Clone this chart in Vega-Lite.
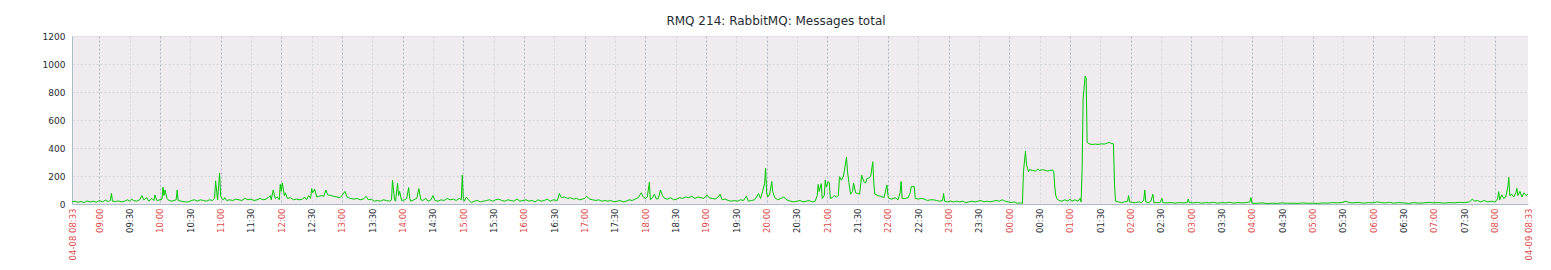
{
  "$schema": "https://vega.github.io/schema/vega-lite/v6.json",
  "autosize": "none",
  "width": 1456,
  "height": 168,
  "padding": {"left": 72, "top": 36, "right": 23, "bottom": 66},
  "background": "#FFFFFF",
  "config": {
    "font": "DejaVu Sans",
    "view": {"fill": "#EFEBEF", "stroke": null}
  },
  "title": {
    "text": "RMQ 214: RabbitMQ: Messages total",
    "font": "DejaVu Sans",
    "fontSize": 12,
    "fontWeight": "normal",
    "color": "#1F2C33",
    "anchor": "middle",
    "frame": "group",
    "dx": -24,
    "offset": 4
  },
  "data": {
    "values": [
      {"t":"2024-04-08T08:33","v":15},{"t":"2024-04-08T08:36","v":20},{"t":"2024-04-08T08:39","v":12},{"t":"2024-04-08T08:42","v":18},{"t":"2024-04-08T08:45","v":10},{"t":"2024-04-08T08:48","v":22},{"t":"2024-04-08T08:51","v":14},{"t":"2024-04-08T08:54","v":20},{"t":"2024-04-08T08:57","v":12},{"t":"2024-04-08T09:00","v":25},
      {"t":"2024-04-08T09:03","v":15},{"t":"2024-04-08T09:06","v":28},{"t":"2024-04-08T09:09","v":18},{"t":"2024-04-08T09:11","v":25},{"t":"2024-04-08T09:12","v":76},{"t":"2024-04-08T09:13","v":20},{"t":"2024-04-08T09:16","v":18},{"t":"2024-04-08T09:19","v":22},{"t":"2024-04-08T09:22","v":15},{"t":"2024-04-08T09:25","v":20},{"t":"2024-04-08T09:28","v":30},{"t":"2024-04-08T09:30","v":20},{"t":"2024-04-08T09:32","v":35},{"t":"2024-04-08T09:34","v":25},{"t":"2024-04-08T09:37","v":20},{"t":"2024-04-08T09:40","v":30},{"t":"2024-04-08T09:42","v":60},{"t":"2024-04-08T09:44","v":30},{"t":"2024-04-08T09:47","v":45},{"t":"2024-04-08T09:49","v":20},{"t":"2024-04-08T09:52","v":40},{"t":"2024-04-08T09:54","v":25},{"t":"2024-04-08T09:55","v":65},{"t":"2024-04-08T09:57","v":25},
      {"t":"2024-04-08T10:00","v":30},{"t":"2024-04-08T10:02","v":35},{"t":"2024-04-08T10:03","v":120},{"t":"2024-04-08T10:04","v":60},{"t":"2024-04-08T10:05","v":100},{"t":"2024-04-08T10:07","v":40},{"t":"2024-04-08T10:08","v":30},{"t":"2024-04-08T10:11","v":20},{"t":"2024-04-08T10:14","v":25},{"t":"2024-04-08T10:16","v":30},{"t":"2024-04-08T10:17","v":100},{"t":"2024-04-08T10:18","v":25},{"t":"2024-04-08T10:21","v":20},{"t":"2024-04-08T10:25","v":15},{"t":"2024-04-08T10:28","v":15},{"t":"2024-04-08T10:31","v":25},{"t":"2024-04-08T10:34","v":30},{"t":"2024-04-08T10:37","v":20},{"t":"2024-04-08T10:40","v":30},{"t":"2024-04-08T10:43","v":25},{"t":"2024-04-08T10:46","v":20},{"t":"2024-04-08T10:49","v":30},{"t":"2024-04-08T10:52","v":25},{"t":"2024-04-08T10:54","v":40},{"t":"2024-04-08T10:55","v":165},{"t":"2024-04-08T10:57","v":30},{"t":"2024-04-08T10:59","v":220},
      {"t":"2024-04-08T11:00","v":60},{"t":"2024-04-08T11:01","v":40},{"t":"2024-04-08T11:03","v":30},{"t":"2024-04-08T11:04","v":45},{"t":"2024-04-08T11:06","v":25},{"t":"2024-04-08T11:09","v":30},{"t":"2024-04-08T11:12","v":25},{"t":"2024-04-08T11:15","v":35},{"t":"2024-04-08T11:18","v":30},{"t":"2024-04-08T11:21","v":25},{"t":"2024-04-08T11:24","v":40},{"t":"2024-04-08T11:27","v":30},{"t":"2024-04-08T11:30","v":35},{"t":"2024-04-08T11:33","v":25},{"t":"2024-04-08T11:36","v":30},{"t":"2024-04-08T11:39","v":40},{"t":"2024-04-08T11:42","v":30},{"t":"2024-04-08T11:45","v":35},{"t":"2024-04-08T11:47","v":45},{"t":"2024-04-08T11:49","v":60},{"t":"2024-04-08T11:50","v":30},{"t":"2024-04-08T11:52","v":100},{"t":"2024-04-08T11:54","v":40},{"t":"2024-04-08T11:56","v":50},{"t":"2024-04-08T11:58","v":30},{"t":"2024-04-08T11:59","v":140},
      {"t":"2024-04-08T12:00","v":90},{"t":"2024-04-08T12:01","v":150},{"t":"2024-04-08T12:03","v":60},{"t":"2024-04-08T12:04","v":80},{"t":"2024-04-08T12:06","v":40},{"t":"2024-04-08T12:09","v":45},{"t":"2024-04-08T12:12","v":30},{"t":"2024-04-08T12:15","v":35},{"t":"2024-04-08T12:18","v":30},{"t":"2024-04-08T12:21","v":35},{"t":"2024-04-08T12:23","v":50},{"t":"2024-04-08T12:25","v":30},{"t":"2024-04-08T12:27","v":60},{"t":"2024-04-08T12:29","v":40},{"t":"2024-04-08T12:30","v":110},{"t":"2024-04-08T12:31","v":80},{"t":"2024-04-08T12:33","v":105},{"t":"2024-04-08T12:35","v":50},{"t":"2024-04-08T12:37","v":55},{"t":"2024-04-08T12:40","v":60},{"t":"2024-04-08T12:42","v":55},{"t":"2024-04-08T12:44","v":100},{"t":"2024-04-08T12:46","v":65},{"t":"2024-04-08T12:49","v":60},{"t":"2024-04-08T12:52","v":55},{"t":"2024-04-08T12:55","v":50},{"t":"2024-04-08T12:58","v":45},
      {"t":"2024-04-08T13:00","v":60},{"t":"2024-04-08T13:03","v":90},{"t":"2024-04-08T13:05","v":50},{"t":"2024-04-08T13:08","v":40},{"t":"2024-04-08T13:12","v":35},{"t":"2024-04-08T13:15","v":40},{"t":"2024-04-08T13:18","v":30},{"t":"2024-04-08T13:21","v":35},{"t":"2024-04-08T13:24","v":55},{"t":"2024-04-08T13:26","v":30},{"t":"2024-04-08T13:29","v":35},{"t":"2024-04-08T13:32","v":20},{"t":"2024-04-08T13:35","v":25},{"t":"2024-04-08T13:38","v":20},{"t":"2024-04-08T13:41","v":30},{"t":"2024-04-08T13:44","v":25},{"t":"2024-04-08T13:47","v":20},{"t":"2024-04-08T13:49","v":30},{"t":"2024-04-08T13:50","v":170},{"t":"2024-04-08T13:52","v":30},{"t":"2024-04-08T13:53","v":20},{"t":"2024-04-08T13:55","v":148},{"t":"2024-04-08T13:56","v":60},{"t":"2024-04-08T13:57","v":90},{"t":"2024-04-08T13:59","v":25},
      {"t":"2024-04-08T14:02","v":30},{"t":"2024-04-08T14:04","v":40},{"t":"2024-04-08T14:06","v":117},{"t":"2024-04-08T14:07","v":40},{"t":"2024-04-08T14:08","v":20},{"t":"2024-04-08T14:11","v":30},{"t":"2024-04-08T14:14","v":40},{"t":"2024-04-08T14:16","v":110},{"t":"2024-04-08T14:18","v":30},{"t":"2024-04-08T14:20","v":25},{"t":"2024-04-08T14:23","v":40},{"t":"2024-04-08T14:25","v":20},{"t":"2024-04-08T14:28","v":30},{"t":"2024-04-08T14:30","v":60},{"t":"2024-04-08T14:32","v":25},{"t":"2024-04-08T14:35","v":20},{"t":"2024-04-08T14:38","v":30},{"t":"2024-04-08T14:41","v":25},{"t":"2024-04-08T14:44","v":40},{"t":"2024-04-08T14:47","v":30},{"t":"2024-04-08T14:50","v":35},{"t":"2024-04-08T14:53","v":25},{"t":"2024-04-08T14:56","v":40},{"t":"2024-04-08T14:58","v":30},{"t":"2024-04-08T14:59","v":207},
      {"t":"2024-04-08T15:00","v":40},{"t":"2024-04-08T15:01","v":20},{"t":"2024-04-08T15:03","v":50},{"t":"2024-04-08T15:05","v":30},{"t":"2024-04-08T15:08","v":10},{"t":"2024-04-08T15:11","v":20},{"t":"2024-04-08T15:14","v":25},{"t":"2024-04-08T15:17","v":15},{"t":"2024-04-08T15:20","v":20},{"t":"2024-04-08T15:23","v":25},{"t":"2024-04-08T15:26","v":30},{"t":"2024-04-08T15:29","v":20},{"t":"2024-04-08T15:32","v":30},{"t":"2024-04-08T15:35","v":35},{"t":"2024-04-08T15:38","v":25},{"t":"2024-04-08T15:41","v":20},{"t":"2024-04-08T15:44","v":30},{"t":"2024-04-08T15:47","v":25},{"t":"2024-04-08T15:50","v":20},{"t":"2024-04-08T15:53","v":35},{"t":"2024-04-08T15:56","v":20},{"t":"2024-04-08T15:59","v":25},
      {"t":"2024-04-08T16:02","v":30},{"t":"2024-04-08T16:05","v":20},{"t":"2024-04-08T16:08","v":25},{"t":"2024-04-08T16:11","v":15},{"t":"2024-04-08T16:14","v":30},{"t":"2024-04-08T16:17","v":20},{"t":"2024-04-08T16:20","v":25},{"t":"2024-04-08T16:23","v":35},{"t":"2024-04-08T16:26","v":20},{"t":"2024-04-08T16:29","v":30},{"t":"2024-04-08T16:33","v":25},{"t":"2024-04-08T16:35","v":75},{"t":"2024-04-08T16:37","v":45},{"t":"2024-04-08T16:40","v":50},{"t":"2024-04-08T16:43","v":40},{"t":"2024-04-08T16:46","v":45},{"t":"2024-04-08T16:49","v":35},{"t":"2024-04-08T16:52","v":40},{"t":"2024-04-08T16:55","v":30},{"t":"2024-04-08T16:58","v":35},
      {"t":"2024-04-08T17:00","v":40},{"t":"2024-04-08T17:02","v":55},{"t":"2024-04-08T17:05","v":35},{"t":"2024-04-08T17:08","v":30},{"t":"2024-04-08T17:11","v":25},{"t":"2024-04-08T17:14","v":30},{"t":"2024-04-08T17:17","v":20},{"t":"2024-04-08T17:20","v":25},{"t":"2024-04-08T17:23","v":20},{"t":"2024-04-08T17:26","v":25},{"t":"2024-04-08T17:29","v":15},{"t":"2024-04-08T17:32","v":20},{"t":"2024-04-08T17:35","v":25},{"t":"2024-04-08T17:38","v":15},{"t":"2024-04-08T17:41","v":20},{"t":"2024-04-08T17:44","v":30},{"t":"2024-04-08T17:47","v":25},{"t":"2024-04-08T17:50","v":35},{"t":"2024-04-08T17:53","v":45},{"t":"2024-04-08T17:56","v":80},{"t":"2024-04-08T17:58","v":50},
      {"t":"2024-04-08T18:00","v":40},{"t":"2024-04-08T18:02","v":50},{"t":"2024-04-08T18:04","v":155},{"t":"2024-04-08T18:05","v":30},{"t":"2024-04-08T18:07","v":45},{"t":"2024-04-08T18:09","v":70},{"t":"2024-04-08T18:11","v":35},{"t":"2024-04-08T18:13","v":40},{"t":"2024-04-08T18:15","v":100},{"t":"2024-04-08T18:17","v":60},{"t":"2024-04-08T18:19","v":40},{"t":"2024-04-08T18:22","v":35},{"t":"2024-04-08T18:25","v":45},{"t":"2024-04-08T18:28","v":30},{"t":"2024-04-08T18:31","v":35},{"t":"2024-04-08T18:34","v":45},{"t":"2024-04-08T18:37","v":40},{"t":"2024-04-08T18:40","v":50},{"t":"2024-04-08T18:43","v":45},{"t":"2024-04-08T18:46","v":55},{"t":"2024-04-08T18:49","v":40},{"t":"2024-04-08T18:52","v":50},{"t":"2024-04-08T18:55","v":45},{"t":"2024-04-08T18:58","v":40},
      {"t":"2024-04-08T19:01","v":65},{"t":"2024-04-08T19:03","v":45},{"t":"2024-04-08T19:06","v":40},{"t":"2024-04-08T19:09","v":35},{"t":"2024-04-08T19:12","v":50},{"t":"2024-04-08T19:14","v":70},{"t":"2024-04-08T19:16","v":30},{"t":"2024-04-08T19:19","v":35},{"t":"2024-04-08T19:22","v":25},{"t":"2024-04-08T19:25","v":20},{"t":"2024-04-08T19:28","v":25},{"t":"2024-04-08T19:31","v":20},{"t":"2024-04-08T19:34","v":30},{"t":"2024-04-08T19:37","v":25},{"t":"2024-04-08T19:40","v":55},{"t":"2024-04-08T19:42","v":20},{"t":"2024-04-08T19:45","v":25},{"t":"2024-04-08T19:48","v":30},{"t":"2024-04-08T19:50","v":50},{"t":"2024-04-08T19:52","v":75},{"t":"2024-04-08T19:54","v":40},{"t":"2024-04-08T19:56","v":90},{"t":"2024-04-08T19:58","v":148},{"t":"2024-04-08T19:59","v":255},
      {"t":"2024-04-08T20:00","v":80},{"t":"2024-04-08T20:01","v":50},{"t":"2024-04-08T20:03","v":70},{"t":"2024-04-08T20:05","v":160},{"t":"2024-04-08T20:06","v":90},{"t":"2024-04-08T20:08","v":45},{"t":"2024-04-08T20:11","v":30},{"t":"2024-04-08T20:14","v":40},{"t":"2024-04-08T20:17","v":50},{"t":"2024-04-08T20:19","v":35},{"t":"2024-04-08T20:21","v":25},{"t":"2024-04-08T20:24","v":20},{"t":"2024-04-08T20:27","v":15},{"t":"2024-04-08T20:30","v":20},{"t":"2024-04-08T20:33","v":25},{"t":"2024-04-08T20:36","v":15},{"t":"2024-04-08T20:39","v":20},{"t":"2024-04-08T20:42","v":25},{"t":"2024-04-08T20:45","v":15},{"t":"2024-04-08T20:48","v":20},{"t":"2024-04-08T20:50","v":60},{"t":"2024-04-08T20:51","v":140},{"t":"2024-04-08T20:52","v":90},{"t":"2024-04-08T20:54","v":145},{"t":"2024-04-08T20:55","v":40},{"t":"2024-04-08T20:57","v":60},{"t":"2024-04-08T20:58","v":171},{"t":"2024-04-08T20:59","v":120},
      {"t":"2024-04-08T21:01","v":160},{"t":"2024-04-08T21:02","v":150},{"t":"2024-04-08T21:03","v":40},{"t":"2024-04-08T21:05","v":45},{"t":"2024-04-08T21:07","v":60},{"t":"2024-04-08T21:09","v":50},{"t":"2024-04-08T21:11","v":60},{"t":"2024-04-08T21:12","v":195},{"t":"2024-04-08T21:14","v":170},{"t":"2024-04-08T21:16","v":200},{"t":"2024-04-08T21:19","v":333},{"t":"2024-04-08T21:20","v":230},{"t":"2024-04-08T21:22","v":120},{"t":"2024-04-08T21:23","v":70},{"t":"2024-04-08T21:25","v":90},{"t":"2024-04-08T21:26","v":150},{"t":"2024-04-08T21:28","v":80},{"t":"2024-04-08T21:30","v":75},{"t":"2024-04-08T21:32","v":70},{"t":"2024-04-08T21:34","v":207},{"t":"2024-04-08T21:36","v":160},{"t":"2024-04-08T21:38","v":150},{"t":"2024-04-08T21:39","v":180},{"t":"2024-04-08T21:41","v":185},{"t":"2024-04-08T21:43","v":200},{"t":"2024-04-08T21:45","v":302},{"t":"2024-04-08T21:46","v":150},{"t":"2024-04-08T21:47","v":70},{"t":"2024-04-08T21:50","v":60},{"t":"2024-04-08T21:53","v":55},{"t":"2024-04-08T21:56","v":45},{"t":"2024-04-08T21:59","v":136},
      {"t":"2024-04-08T22:00","v":60},{"t":"2024-04-08T22:01","v":40},{"t":"2024-04-08T22:04","v":35},{"t":"2024-04-08T22:07","v":45},{"t":"2024-04-08T22:10","v":30},{"t":"2024-04-08T22:12","v":80},{"t":"2024-04-08T22:13","v":160},{"t":"2024-04-08T22:14","v":40},{"t":"2024-04-08T22:17","v":40},{"t":"2024-04-08T22:20","v":45},{"t":"2024-04-08T22:22","v":80},{"t":"2024-04-08T22:23","v":124},{"t":"2024-04-08T22:26","v":124},{"t":"2024-04-08T22:27","v":40},{"t":"2024-04-08T22:30","v":35},{"t":"2024-04-08T22:33","v":40},{"t":"2024-04-08T22:36","v":35},{"t":"2024-04-08T22:39","v":25},{"t":"2024-04-08T22:42","v":30},{"t":"2024-04-08T22:45","v":30},{"t":"2024-04-08T22:48","v":25},{"t":"2024-04-08T22:51","v":20},{"t":"2024-04-08T22:54","v":25},{"t":"2024-04-08T22:55","v":75},{"t":"2024-04-08T22:56","v":20},{"t":"2024-04-08T22:59","v":15},
      {"t":"2024-04-08T23:02","v":20},{"t":"2024-04-08T23:05","v":15},{"t":"2024-04-08T23:08","v":20},{"t":"2024-04-08T23:11","v":15},{"t":"2024-04-08T23:14","v":20},{"t":"2024-04-08T23:17","v":10},{"t":"2024-04-08T23:20","v":15},{"t":"2024-04-08T23:23","v":20},{"t":"2024-04-08T23:26","v":15},{"t":"2024-04-08T23:29","v":20},{"t":"2024-04-08T23:32","v":25},{"t":"2024-04-08T23:35","v":15},{"t":"2024-04-08T23:38","v":20},{"t":"2024-04-08T23:41","v":15},{"t":"2024-04-08T23:44","v":20},{"t":"2024-04-08T23:47","v":25},{"t":"2024-04-08T23:50","v":20},{"t":"2024-04-08T23:53","v":30},{"t":"2024-04-08T23:56","v":20},{"t":"2024-04-08T23:59","v":15},
      {"t":"2024-04-09T00:02","v":10},{"t":"2024-04-09T00:05","v":15},{"t":"2024-04-09T00:08","v":5},{"t":"2024-04-09T00:11","v":8},{"t":"2024-04-09T00:13","v":5},{"t":"2024-04-09T00:14","v":230},{"t":"2024-04-09T00:16","v":378},{"t":"2024-04-09T00:17","v":280},{"t":"2024-04-09T00:18","v":255},{"t":"2024-04-09T00:19","v":230},{"t":"2024-04-09T00:20","v":245},{"t":"2024-04-09T00:23","v":240},{"t":"2024-04-09T00:26","v":235},{"t":"2024-04-09T00:28","v":250},{"t":"2024-04-09T00:30","v":240},{"t":"2024-04-09T00:33","v":245},{"t":"2024-04-09T00:36","v":240},{"t":"2024-04-09T00:38","v":235},{"t":"2024-04-09T00:40","v":240},{"t":"2024-04-09T00:43","v":242},{"t":"2024-04-09T00:44","v":230},{"t":"2024-04-09T00:45","v":120},{"t":"2024-04-09T00:46","v":60},{"t":"2024-04-09T00:47","v":40},{"t":"2024-04-09T00:49","v":25},{"t":"2024-04-09T00:52","v":20},{"t":"2024-04-09T00:55","v":30},{"t":"2024-04-09T00:58","v":20},
      {"t":"2024-04-09T01:00","v":35},{"t":"2024-04-09T01:02","v":20},{"t":"2024-04-09T01:05","v":30},{"t":"2024-04-09T01:08","v":20},{"t":"2024-04-09T01:10","v":40},{"t":"2024-04-09T01:11","v":15},{"t":"2024-04-09T01:12","v":240},{"t":"2024-04-09T01:13","v":750},{"t":"2024-04-09T01:15","v":914},{"t":"2024-04-09T01:16","v":900},{"t":"2024-04-09T01:17","v":440},{"t":"2024-04-09T01:19","v":430},{"t":"2024-04-09T01:22","v":425},{"t":"2024-04-09T01:25","v":428},{"t":"2024-04-09T01:28","v":425},{"t":"2024-04-09T01:31","v":430},{"t":"2024-04-09T01:34","v":428},{"t":"2024-04-09T01:37","v":435},{"t":"2024-04-09T01:39","v":440},{"t":"2024-04-09T01:41","v":432},{"t":"2024-04-09T01:43","v":430},{"t":"2024-04-09T01:44","v":150},{"t":"2024-04-09T01:45","v":20},{"t":"2024-04-09T01:48","v":15},{"t":"2024-04-09T01:51","v":10},{"t":"2024-04-09T01:54","v":15},{"t":"2024-04-09T01:57","v":20},{"t":"2024-04-09T01:58","v":60},{"t":"2024-04-09T01:59","v":15},
      {"t":"2024-04-09T02:02","v":10},{"t":"2024-04-09T02:05","v":10},{"t":"2024-04-09T02:08","v":15},{"t":"2024-04-09T02:11","v":10},{"t":"2024-04-09T02:13","v":30},{"t":"2024-04-09T02:14","v":100},{"t":"2024-04-09T02:15","v":15},{"t":"2024-04-09T02:18","v":10},{"t":"2024-04-09T02:20","v":20},{"t":"2024-04-09T02:22","v":70},{"t":"2024-04-09T02:23","v":10},{"t":"2024-04-09T02:26","v":10},{"t":"2024-04-09T02:29","v":10},{"t":"2024-04-09T02:31","v":40},{"t":"2024-04-09T02:32","v":10},{"t":"2024-04-09T02:36","v":8},{"t":"2024-04-09T02:40","v":10},{"t":"2024-04-09T02:44","v":6},{"t":"2024-04-09T02:48","v":10},{"t":"2024-04-09T02:52","v":8},{"t":"2024-04-09T02:56","v":10},{"t":"2024-04-09T02:57","v":35},{"t":"2024-04-09T02:58","v":10},
      {"t":"2024-04-09T03:02","v":8},{"t":"2024-04-09T03:06","v":12},{"t":"2024-04-09T03:10","v":6},{"t":"2024-04-09T03:14","v":10},{"t":"2024-04-09T03:18","v":8},{"t":"2024-04-09T03:22","v":12},{"t":"2024-04-09T03:26","v":6},{"t":"2024-04-09T03:30","v":10},{"t":"2024-04-09T03:34","v":8},{"t":"2024-04-09T03:38","v":12},{"t":"2024-04-09T03:42","v":6},{"t":"2024-04-09T03:46","v":10},{"t":"2024-04-09T03:50","v":8},{"t":"2024-04-09T03:54","v":10},{"t":"2024-04-09T03:58","v":15},{"t":"2024-04-09T03:59","v":45},{"t":"2024-04-09T04:00","v":5},
      {"t":"2024-04-09T04:05","v":5},{"t":"2024-04-09T04:10","v":8},{"t":"2024-04-09T04:15","v":3},{"t":"2024-04-09T04:20","v":6},{"t":"2024-04-09T04:25","v":4},{"t":"2024-04-09T04:30","v":8},{"t":"2024-04-09T04:35","v":5},{"t":"2024-04-09T04:40","v":6},{"t":"2024-04-09T04:45","v":4},{"t":"2024-04-09T04:50","v":8},{"t":"2024-04-09T04:55","v":5},{"t":"2024-04-09T05:00","v":6},{"t":"2024-04-09T05:05","v":4},{"t":"2024-04-09T05:10","v":8},{"t":"2024-04-09T05:15","v":6},{"t":"2024-04-09T05:20","v":10},{"t":"2024-04-09T05:25","v":8},{"t":"2024-04-09T05:30","v":12},{"t":"2024-04-09T05:33","v":20},{"t":"2024-04-09T05:36","v":10},{"t":"2024-04-09T05:40","v":8},{"t":"2024-04-09T05:45","v":12},{"t":"2024-04-09T05:50","v":6},{"t":"2024-04-09T05:55","v":10},
      {"t":"2024-04-09T06:00","v":8},{"t":"2024-04-09T06:04","v":15},{"t":"2024-04-09T06:08","v":10},{"t":"2024-04-09T06:12","v":8},{"t":"2024-04-09T06:16","v":12},{"t":"2024-04-09T06:20","v":6},{"t":"2024-04-09T06:25","v":10},{"t":"2024-04-09T06:30","v":8},{"t":"2024-04-09T06:35","v":4},{"t":"2024-04-09T06:40","v":10},{"t":"2024-04-09T06:45","v":6},{"t":"2024-04-09T06:50","v":8},{"t":"2024-04-09T06:55","v":12},
      {"t":"2024-04-09T07:00","v":8},{"t":"2024-04-09T07:05","v":10},{"t":"2024-04-09T07:10","v":6},{"t":"2024-04-09T07:15","v":10},{"t":"2024-04-09T07:20","v":8},{"t":"2024-04-09T07:25","v":12},{"t":"2024-04-09T07:30","v":10},{"t":"2024-04-09T07:35","v":15},{"t":"2024-04-09T07:38","v":35},{"t":"2024-04-09T07:40","v":20},{"t":"2024-04-09T07:43","v":25},{"t":"2024-04-09T07:46","v":15},{"t":"2024-04-09T07:50","v":25},{"t":"2024-04-09T07:53","v":15},{"t":"2024-04-09T07:57","v":20},
      {"t":"2024-04-09T08:00","v":15},{"t":"2024-04-09T08:02","v":25},{"t":"2024-04-09T08:03","v":40},{"t":"2024-04-09T08:04","v":88},{"t":"2024-04-09T08:05","v":30},{"t":"2024-04-09T08:07","v":65},{"t":"2024-04-09T08:09","v":40},{"t":"2024-04-09T08:11","v":50},{"t":"2024-04-09T08:13","v":120},{"t":"2024-04-09T08:14","v":190},{"t":"2024-04-09T08:15","v":60},{"t":"2024-04-09T08:17","v":70},{"t":"2024-04-09T08:19","v":50},{"t":"2024-04-09T08:21","v":80},{"t":"2024-04-09T08:22","v":112},{"t":"2024-04-09T08:23","v":60},{"t":"2024-04-09T08:25","v":90},{"t":"2024-04-09T08:27","v":50},{"t":"2024-04-09T08:29","v":80},{"t":"2024-04-09T08:31","v":60},{"t":"2024-04-09T08:33","v":70}
    ]
  },
  "mark": {"type": "line", "color": "#00C800", "strokeWidth": 1, "interpolate": "linear"},
  "encoding": {
    "x": {
      "field": "t",
      "type": "temporal",
      "title": null,
      "scale": {
        "domain": [
          {"year": 2024, "month": 4, "date": 8, "hours": 8, "minutes": 33},
          {"year": 2024, "month": 4, "date": 9, "hours": 8, "minutes": 33}
        ]
      },
      "axis": {
        "values": [
          {"year":2024,"month":4,"date":8,"hours":8,"minutes":33},
          {"year":2024,"month":4,"date":8,"hours":9,"minutes":0},{"year":2024,"month":4,"date":8,"hours":9,"minutes":30},
          {"year":2024,"month":4,"date":8,"hours":10,"minutes":0},{"year":2024,"month":4,"date":8,"hours":10,"minutes":30},
          {"year":2024,"month":4,"date":8,"hours":11,"minutes":0},{"year":2024,"month":4,"date":8,"hours":11,"minutes":30},
          {"year":2024,"month":4,"date":8,"hours":12,"minutes":0},{"year":2024,"month":4,"date":8,"hours":12,"minutes":30},
          {"year":2024,"month":4,"date":8,"hours":13,"minutes":0},{"year":2024,"month":4,"date":8,"hours":13,"minutes":30},
          {"year":2024,"month":4,"date":8,"hours":14,"minutes":0},{"year":2024,"month":4,"date":8,"hours":14,"minutes":30},
          {"year":2024,"month":4,"date":8,"hours":15,"minutes":0},{"year":2024,"month":4,"date":8,"hours":15,"minutes":30},
          {"year":2024,"month":4,"date":8,"hours":16,"minutes":0},{"year":2024,"month":4,"date":8,"hours":16,"minutes":30},
          {"year":2024,"month":4,"date":8,"hours":17,"minutes":0},{"year":2024,"month":4,"date":8,"hours":17,"minutes":30},
          {"year":2024,"month":4,"date":8,"hours":18,"minutes":0},{"year":2024,"month":4,"date":8,"hours":18,"minutes":30},
          {"year":2024,"month":4,"date":8,"hours":19,"minutes":0},{"year":2024,"month":4,"date":8,"hours":19,"minutes":30},
          {"year":2024,"month":4,"date":8,"hours":20,"minutes":0},{"year":2024,"month":4,"date":8,"hours":20,"minutes":30},
          {"year":2024,"month":4,"date":8,"hours":21,"minutes":0},{"year":2024,"month":4,"date":8,"hours":21,"minutes":30},
          {"year":2024,"month":4,"date":8,"hours":22,"minutes":0},{"year":2024,"month":4,"date":8,"hours":22,"minutes":30},
          {"year":2024,"month":4,"date":8,"hours":23,"minutes":0},{"year":2024,"month":4,"date":8,"hours":23,"minutes":30},
          {"year":2024,"month":4,"date":9,"hours":0,"minutes":0},{"year":2024,"month":4,"date":9,"hours":0,"minutes":30},
          {"year":2024,"month":4,"date":9,"hours":1,"minutes":0},{"year":2024,"month":4,"date":9,"hours":1,"minutes":30},
          {"year":2024,"month":4,"date":9,"hours":2,"minutes":0},{"year":2024,"month":4,"date":9,"hours":2,"minutes":30},
          {"year":2024,"month":4,"date":9,"hours":3,"minutes":0},{"year":2024,"month":4,"date":9,"hours":3,"minutes":30},
          {"year":2024,"month":4,"date":9,"hours":4,"minutes":0},{"year":2024,"month":4,"date":9,"hours":4,"minutes":30},
          {"year":2024,"month":4,"date":9,"hours":5,"minutes":0},{"year":2024,"month":4,"date":9,"hours":5,"minutes":30},
          {"year":2024,"month":4,"date":9,"hours":6,"minutes":0},{"year":2024,"month":4,"date":9,"hours":6,"minutes":30},
          {"year":2024,"month":4,"date":9,"hours":7,"minutes":0},{"year":2024,"month":4,"date":9,"hours":7,"minutes":30},
          {"year":2024,"month":4,"date":9,"hours":8,"minutes":0},
          {"year":2024,"month":4,"date":9,"hours":8,"minutes":33}
        ],
        "labelExpr": "minutes(datum.value) == 33 ? timeFormat(datum.value, '%m-%d %H:%M') : timeFormat(datum.value, '%H:%M')",
        "labelAngle": 270,
        "labelAlign": "right",
        "labelBaseline": "middle",
        "labelFont": "DejaVu Sans",
        "labelFontSize": 8.5,
        "labelPadding": 4,
        "labelOverlap": false,
        "labelBound": false,
        "labelFlush": false,
        "labelColor": {"condition": {"test": "minutes(datum.value) == 30", "value": "#1F2C33"}, "value": "#E04848"},
        "ticks": false,
        "domain": true,
        "domainColor": "#ACBBCA",
        "domainWidth": 1,
        "grid": true,
        "gridDash": [2, 2],
        "gridWidth": 1,
        "gridColor": {
          "condition": [
            {"test": "minutes(datum.value) == 33", "value": "transparent"},
            {"test": "minutes(datum.value) == 0", "value": "#A9B8C8"}
          ],
          "value": "#D3D6DA"
        }
      }
    },
    "y": {
      "field": "v",
      "type": "quantitative",
      "title": null,
      "scale": {"domain": [0, 1200], "nice": false, "zero": true},
      "axis": {
        "values": [0, 200, 400, 600, 800, 1000, 1200],
        "format": "d",
        "labelFont": "DejaVu Sans",
        "labelFontSize": 9,
        "labelColor": "#1F2C33",
        "labelPadding": 7,
        "ticks": false,
        "domainColor": "#ACBBCA",
        "grid": true,
        "gridDash": [2, 2],
        "gridColor": "#D3D6DA",
        "gridWidth": 1
      }
    }
  }
}
